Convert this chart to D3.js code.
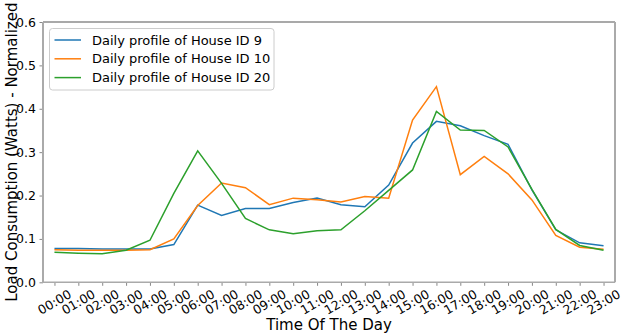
<!DOCTYPE html>
<html>
<head>
<meta charset="utf-8">
<script src="https://cdnjs.cloudflare.com/ajax/libs/d3/7.8.5/d3.min.js"></script>
<style>
  body { margin: 0; background: #fff; }
  svg { font-family: "DejaVu Sans", sans-serif; }
</style>
</head>
<body>
<div id="chart"></div>
<script>
var hours = ["00:00","01:00","02:00","03:00","04:00","05:00","06:00","07:00","08:00","09:00","10:00","11:00",
             "12:00","13:00","14:00","15:00","16:00","17:00","18:00","19:00","20:00","21:00","22:00","23:00"];

var house9  = [0.078, 0.078, 0.077, 0.077, 0.077, 0.087, 0.178, 0.154, 0.170, 0.170, 0.184, 0.194,
               0.179, 0.174, 0.224, 0.321, 0.371, 0.361, 0.338, 0.318, 0.213, 0.121, 0.091, 0.084];
var house10 = [0.075, 0.074, 0.074, 0.074, 0.075, 0.100, 0.177, 0.229, 0.218, 0.179, 0.194, 0.190,
               0.185, 0.198, 0.194, 0.374, 0.451, 0.248, 0.290, 0.250, 0.190, 0.108, 0.081, 0.076];
var house20 = [0.069, 0.067, 0.066, 0.074, 0.097, 0.205, 0.303, 0.228, 0.147, 0.121, 0.112, 0.119,
               0.121, 0.165, 0.212, 0.259, 0.394, 0.351, 0.350, 0.312, 0.214, 0.122, 0.085, 0.074];

var seriesNames = ["Daily profile of House ID 9", "Daily profile of House ID 10", "Daily profile of House ID 20"];
var seriesColors = ["#1f77b4", "#ff7f0e", "#2ca02c"];
var yTicks = [0.0, 0.1, 0.2, 0.3, 0.4, 0.5, 0.6];

var series = [house9, house10, house20];

var width = 623, height = 334;
var plotLeft = 43, plotRight = 615, plotTop = 22, plotBottom = 282.3;

var svg = d3.select("#chart").append("svg")
            .attr("width", width)
            .attr("height", height);

var x = d3.scaleLinear().domain([-0.48, 23.48]).range([plotLeft, plotRight]);
var y = d3.scaleLinear().domain([0, 0.6]).range([plotBottom, plotTop]);

// x axis
var xAxis = svg.append("g")
    .attr("transform", "translate(0," + plotBottom + ")")
    .call(d3.axisBottom(x).tickValues(d3.range(24)).tickSize(3.5).tickFormat(""));
xAxis.select(".domain").remove();
xAxis.selectAll("line").attr("stroke", "#888");

svg.append("g").selectAll("text")
  .data(hours)
  .enter()
  .append("text")
  .attr("transform", function(d, i) { return "translate(" + x(i) + ",302) rotate(-30)"; })
  .attr("text-anchor", "middle")
  .attr("dominant-baseline", "central")
  .attr("font-size", 12.5)
  .attr("fill", "#000")
  .text(function(d) { return d; });

// y axis
var yAxis = svg.append("g")
    .attr("transform", "translate(" + plotLeft + ",0)")
    .call(d3.axisLeft(y).tickValues(yTicks).tickSize(3.5).tickPadding(3.5)
            .tickFormat(d3.format(".1f")));
yAxis.select(".domain").remove();
yAxis.selectAll("line").attr("stroke", "#888");
yAxis.selectAll("text").attr("font-size", 12.5).attr("fill", "#000")
     .attr("font-family", "DejaVu Sans");

// spines
svg.append("line").attr("x1", plotLeft).attr("x2", plotRight).attr("y1", plotTop).attr("y2", plotTop)
   .attr("stroke", "#555").attr("stroke-width", 1.2);
svg.append("line").attr("x1", plotLeft).attr("x2", plotLeft).attr("y1", plotTop).attr("y2", plotBottom)
   .attr("stroke", "#aaa").attr("stroke-width", 2);
svg.append("line").attr("x1", plotRight).attr("x2", plotRight).attr("y1", plotTop).attr("y2", plotBottom)
   .attr("stroke", "#aaa").attr("stroke-width", 2);
svg.append("line").attr("x1", plotLeft).attr("x2", plotRight).attr("y1", plotBottom).attr("y2", plotBottom)
   .attr("stroke", "#aaa").attr("stroke-width", 1.5);

// lines
var line = d3.line()
    .x(function(d, i) { return x(i); })
    .y(function(d) { return y(d); });

svg.append("g").selectAll("path")
  .data(series)
  .enter()
  .append("path")
  .attr("d", line)
  .attr("fill", "none")
  .attr("stroke", function(d, i) { return seriesColors[i]; })
  .attr("stroke-width", 1.5);

// axis titles
svg.append("text")
  .attr("x", (plotLeft + plotRight) / 2)
  .attr("y", 330)
  .attr("text-anchor", "middle")
  .attr("font-size", 15)
  .text("Time Of The Day");

svg.append("text")
  .attr("transform", "translate(17," + ((plotTop + plotBottom) / 2) + ") rotate(-90)")
  .attr("text-anchor", "middle")
  .attr("font-size", 15)
  .text("Load Consumption (Watts) - Normalized");

// legend
var legend = svg.append("g");
legend.append("rect")
  .attr("x", 49.5).attr("y", 28.5)
  .attr("width", 224.5).attr("height", 61.5)
  .attr("rx", 3)
  .attr("fill", "#fff").attr("fill-opacity", 0.8)
  .attr("stroke", "#ccc");

var rows = legend.selectAll("g.row")
  .data(seriesNames)
  .enter()
  .append("g")
  .attr("class", "row")
  .attr("transform", function(d, i) { return "translate(0," + (40 + i * 18.8) + ")"; });

rows.append("line")
  .attr("x1", 54.5).attr("x2", 81)
  .attr("stroke", function(d, i) { return seriesColors[i]; })
  .attr("stroke-width", 1.5);

rows.append("text")
  .attr("x", 92)
  .attr("dominant-baseline", "central")
  .attr("font-size", 13)
  .text(function(d) { return d; });
</script>
</body>
</html>
